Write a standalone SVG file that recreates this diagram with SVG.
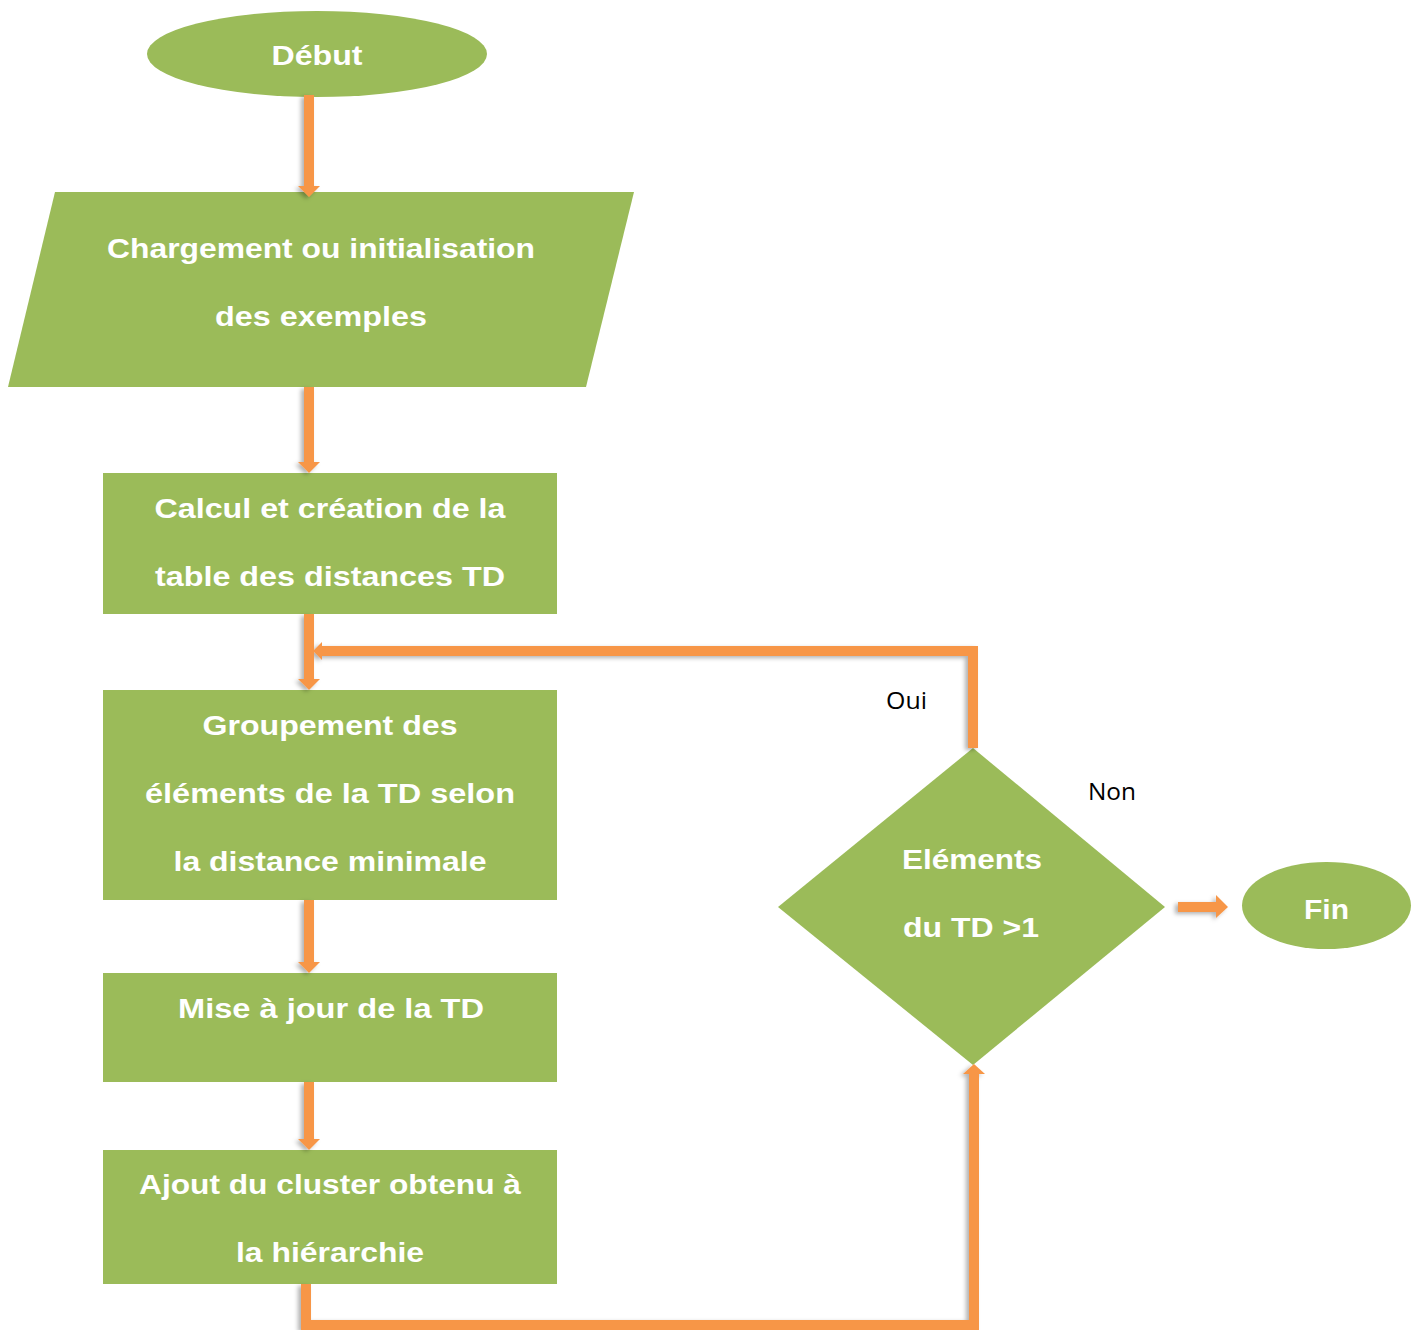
<svg xmlns="http://www.w3.org/2000/svg" width="1421" height="1330" viewBox="0 0 1421 1330">
  <style>
    .node { fill: #9BBB59; }
    .lbl { font-family: "Liberation Sans", Arial, sans-serif; font-weight: bold; font-size: 27px; fill: #FFFFFF; text-anchor: middle; }
    .edge { fill: none; stroke: #F79646; stroke-width: 10; }
    .head { fill: #F79646; }
    .cond { font-family: "Open Sans", "DejaVu Sans", sans-serif; font-size: 23px; fill: #000000; }
  </style>
  <defs>
    <filter id="shadow" x="-20%" y="-20%" width="140%" height="140%">
      <feDropShadow dx="-3" dy="2" stdDeviation="2" flood-color="#000" flood-opacity="0.3"/>
    </filter>
  </defs>
  <rect width="1421" height="1330" fill="#FFFFFF"/>

  <!-- start terminal -->
  <g id="debut">
    <ellipse class="node" cx="317" cy="54" rx="170" ry="43"/>
    <text class="lbl" x="317" y="65" textLength="91" lengthAdjust="spacingAndGlyphs">Début</text>
  </g>

  <!-- input: load / initialise the examples -->
  <g id="chargement">
    <polygon class="node" points="55,192 634,192 586,387 8,387"/>
    <text class="lbl" x="321" y="258" textLength="428" lengthAdjust="spacingAndGlyphs">Chargement ou initialisation</text>
    <text class="lbl" x="321" y="326" textLength="212" lengthAdjust="spacingAndGlyphs">des exemples</text>
  </g>

  <!-- compute the distance table -->
  <g id="calcul">
    <rect class="node" x="103" y="473" width="454" height="141"/>
    <text class="lbl" x="330" y="518" textLength="351" lengthAdjust="spacingAndGlyphs">Calcul et création de la</text>
    <text class="lbl" x="330" y="586" textLength="350" lengthAdjust="spacingAndGlyphs">table des distances TD</text>
  </g>

  <!-- group by minimal distance -->
  <g id="groupement">
    <rect class="node" x="103" y="690" width="454" height="210"/>
    <text class="lbl" x="330" y="735" textLength="255" lengthAdjust="spacingAndGlyphs">Groupement des</text>
    <text class="lbl" x="330" y="803" textLength="370" lengthAdjust="spacingAndGlyphs">éléments de la TD selon</text>
    <text class="lbl" x="330" y="871" textLength="313" lengthAdjust="spacingAndGlyphs">la distance minimale</text>
  </g>

  <!-- update table -->
  <g id="maj">
    <rect class="node" x="103" y="973" width="454" height="109"/>
    <text class="lbl" x="331" y="1018" textLength="306" lengthAdjust="spacingAndGlyphs">Mise à jour de la TD</text>
  </g>

  <!-- add cluster to hierarchy -->
  <g id="ajout">
    <rect class="node" x="103" y="1150" width="454" height="134"/>
    <text class="lbl" x="330" y="1194" textLength="382" lengthAdjust="spacingAndGlyphs">Ajout du cluster obtenu à</text>
    <text class="lbl" x="330" y="1262" textLength="188" lengthAdjust="spacingAndGlyphs">la hiérarchie</text>
  </g>

  <!-- decision -->
  <g id="decision">
    <polygon class="node" points="973,748 1165,907 973,1065 778,907"/>
    <text class="lbl" x="972" y="869" textLength="140" lengthAdjust="spacingAndGlyphs">Eléments</text>
    <text class="lbl" x="971" y="937" textLength="136" lengthAdjust="spacingAndGlyphs">du TD &gt;1</text>
  </g>

  <!-- end terminal -->
  <g id="fin">
    <ellipse class="node" cx="1326.5" cy="905.5" rx="84.5" ry="43.5"/>
    <text class="lbl" x="1326.5" y="919" textLength="45" lengthAdjust="spacingAndGlyphs">Fin</text>
  </g>

  <!-- connectors -->
  <g id="connectors" filter="url(#shadow)">
    <!-- straight flow down the left column -->
    <line class="edge" x1="309" y1="95" x2="309" y2="187"/>
    <polygon class="head" points="298,186 320,186 309,197"/>

    <line class="edge" x1="309" y1="387" x2="309" y2="463"/>
    <polygon class="head" points="298,462 320,462 309,473"/>

    <line class="edge" x1="309" y1="614" x2="309" y2="680"/>
    <polygon class="head" points="298,679 320,679 309,690"/>

    <line class="edge" x1="309" y1="900" x2="309" y2="963"/>
    <polygon class="head" points="298,962 320,962 309,973"/>

    <line class="edge" x1="309" y1="1082" x2="309" y2="1140"/>
    <polygon class="head" points="298,1139 320,1139 309,1150"/>

    <!-- loop back: hierarchy -> decision -->
    <polyline class="edge" points="306,1284 306,1325 974,1325 974,1074"/>
    <polygon class="head" points="963,1074 985,1074 974,1064"/>

    <!-- yes branch: decision -> grouping -->
    <polyline class="edge" points="973,748 973,651 322,651"/>
    <polygon class="head" points="322,642 322,660 313,651"/>

    <!-- no branch: decision -> end -->
    <line class="edge" x1="1178" y1="907" x2="1217" y2="907" stroke-width="11"/>
    <polygon class="head" points="1216,895 1216,918 1228,907"/>
  </g>

  <text class="cond" x="886" y="709" textLength="41" lengthAdjust="spacingAndGlyphs">Oui</text>
  <text class="cond" x="1088" y="800" textLength="48" lengthAdjust="spacingAndGlyphs">Non</text>
</svg>
